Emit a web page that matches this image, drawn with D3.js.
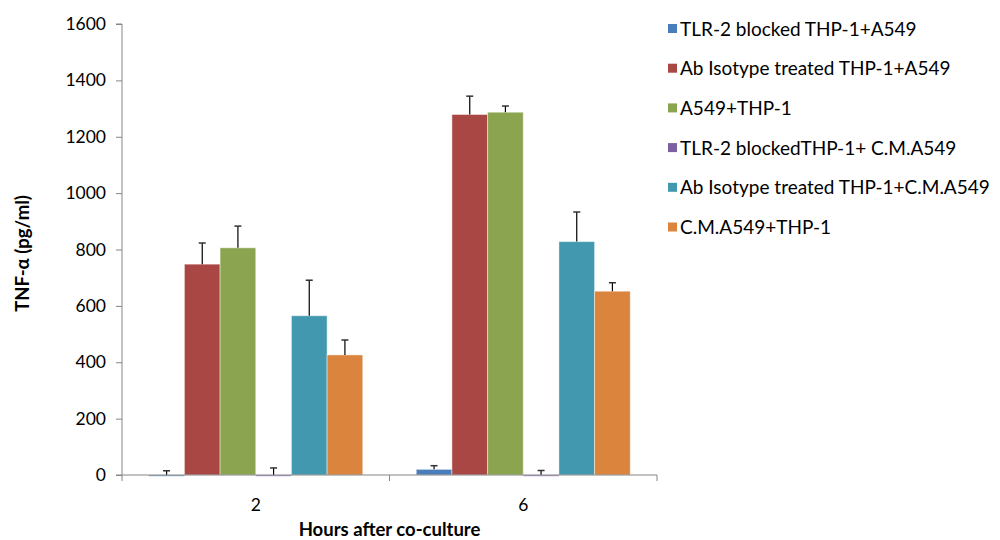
<!DOCTYPE html>
<html>
<head>
<meta charset="utf-8">
<script src="https://cdn.jsdelivr.net/npm/d3@7"></script>
<style>
  body { margin: 0; background: #fff; }
  svg { display: block; font-family: Lato, "Open Sans", sans-serif; }
</style>
</head>
<body>
<svg id="chart" width="1000" height="540"></svg>
<script>
// TNF-α release after co-culture, by treatment
const hours = ["2", "6"];
const seriesNames = [
  "TLR-2 blocked THP-1+A549",
  "Ab Isotype treated THP-1+A549",
  "A549+THP-1",
  "TLR-2 blockedTHP-1+ C.M.A549",
  "Ab Isotype treated THP-1+C.M.A549",
  "C.M.A549+THP-1"
];
const seriesColors = ["#4A7EBB", "#A94745", "#8BA44F", "#7D60A0", "#4299AF", "#DB843D"];
// mean values per series, one entry per time point
const means = [
  [-3, 20],
  [748, 1279],
  [806, 1287],
  [-3, -3],
  [565, 828],
  [426, 652]
];
// upper error (SD) per series
const errors = [
  [15, 13],
  [75, 65],
  [77, 22],
  [25, 16],
  [126, 105],
  [53, 30]
];
const yTicks = [0, 200, 400, 600, 800, 1000, 1200, 1400, 1600];

const svg = d3.select("#chart");
const plotLeft = 122, plotRight = 657, plotTop = 24, plotBottom = 475;

const x0 = d3.scaleBand().domain(hours).range([plotLeft, plotRight]).paddingInner(0).paddingOuter(0);
const x1 = d3.scaleBand().domain(d3.range(seriesNames.length))
  .range([0, x0.bandwidth()]).paddingInner(0).paddingOuter(0.75);
const y = d3.scaleLinear().domain([0, 1600]).range([plotBottom, plotTop]);

const axisColor = "#868686";

// bars
const groups = svg.append("g").selectAll("g")
  .data(hours).join("g")
  .attr("transform", d => `translate(${x0(d)},0)`);

groups.each(function(h, hi) {
  const g = d3.select(this);
  seriesNames.forEach((name, si) => {
    const v = means[si][hi];
    const bx = x1(si);
    const bw = x1.bandwidth();
    g.append("rect")
      .attr("x", bx)
      .attr("y", Math.min(y(v), y(0)))
      .attr("width", bw)
      .attr("height", Math.max(Math.abs(y(v) - y(0)), 1.2))
      .attr("fill", seriesColors[si])
      .attr("stroke", "#ffffff")
      .attr("stroke-opacity", 0.45)
      .attr("stroke-width", 1);
    // upper error bar
    const base = Math.max(v, 0);
    const cx = bx + bw / 2;
    const ytop = y(base + errors[si][hi]);
    g.append("line")
      .attr("x1", cx).attr("x2", cx)
      .attr("y1", y(base)).attr("y2", ytop)
      .attr("stroke", "#000").attr("stroke-width", 1.2);
    g.append("line")
      .attr("x1", cx - 3.5).attr("x2", cx + 3.5)
      .attr("y1", ytop).attr("y2", ytop)
      .attr("stroke", "#333").attr("stroke-width", 1.5);
  });
});

// y axis
const yAxis = d3.axisLeft(y).tickValues(yTicks).tickSize(6).tickPadding(10).tickFormat(d3.format("d"));
const yg = svg.append("g").attr("transform", `translate(${plotLeft},0)`).call(yAxis);
yg.select(".domain").attr("stroke", axisColor).attr("d", `M-6,${plotTop}H0V${plotBottom}H-6`);
yg.selectAll(".tick line").attr("stroke", axisColor);
yg.selectAll(".tick text").attr("font-size", 17.5).attr("fill", "#000").attr("font-family", "Lato, sans-serif");

// x axis with ticks at category boundaries
const xg = svg.append("g").attr("transform", `translate(0,${plotBottom})`);
xg.append("line").attr("x1", plotLeft).attr("x2", plotRight).attr("y1", 0).attr("y2", 0).attr("stroke", axisColor);
const boundaries = [plotLeft].concat(hours.map(h => x0(h) + x0.bandwidth()));
xg.selectAll("line.b").data(boundaries).join("line").attr("class", "b")
  .attr("x1", d => d).attr("x2", d => d).attr("y1", 0).attr("y2", 6).attr("stroke", axisColor);
xg.selectAll("text").data(hours).join("text")
  .attr("x", d => x0(d) + x0.bandwidth() / 2)
  .attr("y", 36)
  .attr("text-anchor", "middle")
  .attr("font-size", 17.5)
  .text(d => d);

// axis titles
svg.append("text")
  .attr("x", (plotLeft + plotRight) / 2).attr("y", 536)
  .attr("text-anchor", "middle").attr("font-size", 18.5).attr("font-weight", "bold")
  .text("Hours after co-culture");
svg.append("text")
  .attr("transform", `translate(29,${(plotTop + plotBottom) / 2 + 4}) rotate(-90)`)
  .attr("text-anchor", "middle").attr("font-size", 18.5).attr("font-weight", "bold")
  .text("TNF-α (pg/ml)");

// legend
const legend = svg.append("g").attr("transform", "translate(668,29)");
seriesNames.forEach((name, i) => {
  const row = legend.append("g").attr("transform", `translate(0,${i * 39.7})`);
  row.append("rect").attr("x", 0).attr("y", -5).attr("width", 9).attr("height", 9).attr("fill", seriesColors[i]);
  row.append("text").attr("x", 12).attr("y", 0).attr("dy", "0.35em")
    .attr("font-size", 19).text(name);
});
</script>
</body>
</html>
